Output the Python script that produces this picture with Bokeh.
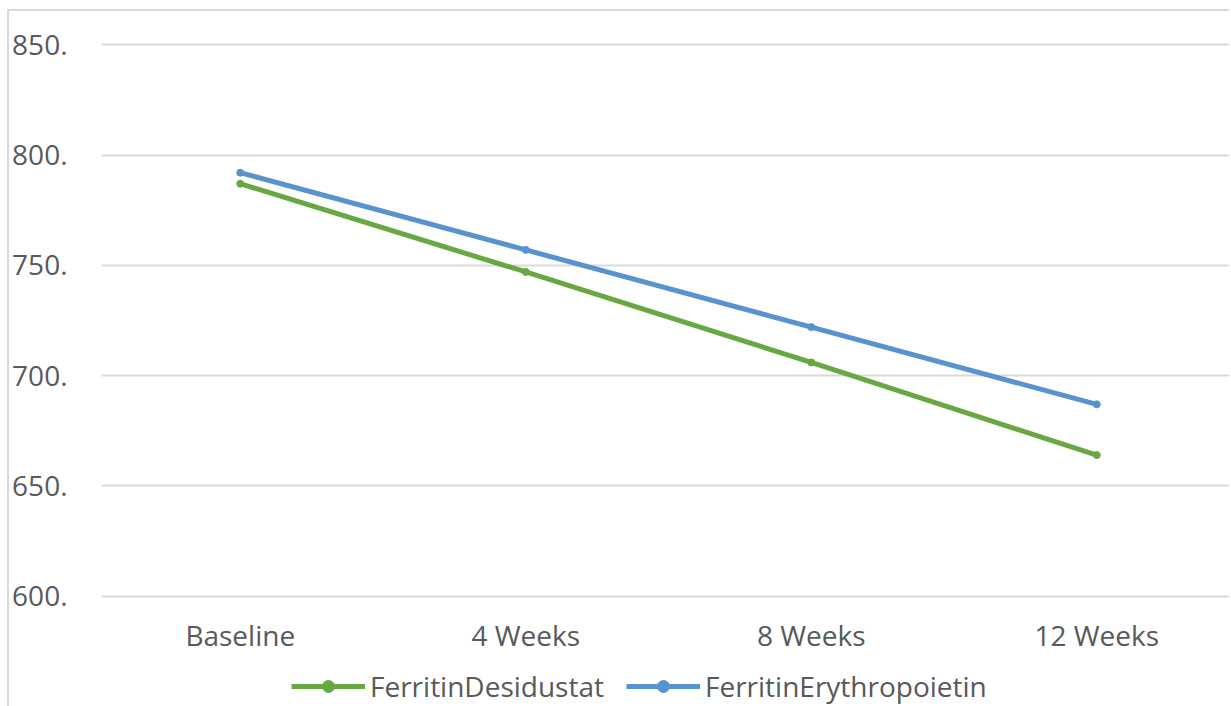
from bokeh.plotting import figure
from bokeh.layouts import column
from bokeh.models import Range1d, FixedTicker, PrintfTickFormatter, Legend, LegendItem
from bokeh.embed import file_html
from bokeh.resources import INLINE

# Ferritin levels over the treatment period
timepoints = ["Baseline", "4 Weeks", "8 Weeks", "12 Weeks"]
desidustat = [787, 747, 706, 664]
erythropoietin = [792, 757, 722, 687]
y_ticks = [600, 650, 700, 750, 800, 850]
series_names = ["FerritinDesidustat", "FerritinErythropoietin"]

green = "#68a843"
blue = "#5892cf"
text_grey = "#595959"
grid_grey = "#d9d9d9"
font = "Open Sans"

xs = list(range(len(timepoints)))

p = figure(
    width=1220, height=647,
    output_backend="svg", toolbar_location=None,
    x_range=Range1d(-0.486, 3.465), y_range=Range1d(599, 851),
    min_border_left=80, min_border_top=31, min_border_right=0, min_border_bottom=60,
)
p.outline_line_color = None
p.border_fill_color = "white"

# lines with small round markers
p.line(xs, desidustat, line_color=green, line_width=5)
p.scatter(xs, desidustat, size=7, color=green)
p.line(xs, erythropoietin, line_color=blue, line_width=5)
p.scatter(xs, erythropoietin, size=7, color=blue)

# axes
p.xaxis.ticker = FixedTicker(ticks=xs)
p.xaxis.major_label_overrides = {i: t for i, t in enumerate(timepoints)}
p.yaxis.ticker = FixedTicker(ticks=y_ticks)
p.yaxis.formatter = PrintfTickFormatter(format="%d.")
for ax in (p.xaxis, p.yaxis):
    ax.axis_line_color = None
    ax.major_tick_line_color = None
    ax.minor_tick_line_color = None
    ax.major_label_text_font = font
    ax.major_label_text_font_size = "28px"
    ax.major_label_text_color = text_grey
p.yaxis.major_label_standoff = 28
p.xaxis.major_label_standoff = 11

p.xgrid.grid_line_color = None
p.ygrid.ticker = FixedTicker(ticks=y_ticks)
p.ygrid.grid_line_color = grid_grey
p.ygrid.grid_line_width = 2

# legend strip underneath the chart; its sample glyphs sit outside the visible range
lg = figure(
    width=1220, height=48,
    output_backend="svg", toolbar_location=None,
    x_axis_type=None, y_axis_type=None,
    x_range=Range1d(0, 1), y_range=Range1d(0, 1),
    min_border=0, min_border_left=0, min_border_right=0,
    min_border_top=0, min_border_bottom=0,
)
lg.outline_line_color = None
lg.xgrid.grid_line_color = None
lg.ygrid.grid_line_color = None
items = []
for name, col in zip(series_names, [green, blue]):
    ln = lg.line([-5, -4], [-5, -5], line_color=col, line_width=5)
    mk = lg.scatter([-5], [-5], size=6, color=col)
    items.append(LegendItem(label=name, renderers=[ln, mk]))

legend = Legend(
    items=items, orientation="horizontal", location=(190, 1),
    glyph_width=74, glyph_height=30, label_standoff=5, spacing=22,
    label_text_font=font, label_text_font_size="28px",
    label_text_color=text_grey, border_line_color=None,
    background_fill_alpha=0, padding=0, margin=0,
)
lg.add_layout(legend, "center")

layout = column(
    p, lg, spacing=0,
    styles={"margin-left": "7px", "margin-top": "9px",
            "border-left": "2px solid #d9d9d9", "border-top": "2px solid #d9d9d9"},
)

open("out.html", "w").write(file_html(layout, INLINE))
